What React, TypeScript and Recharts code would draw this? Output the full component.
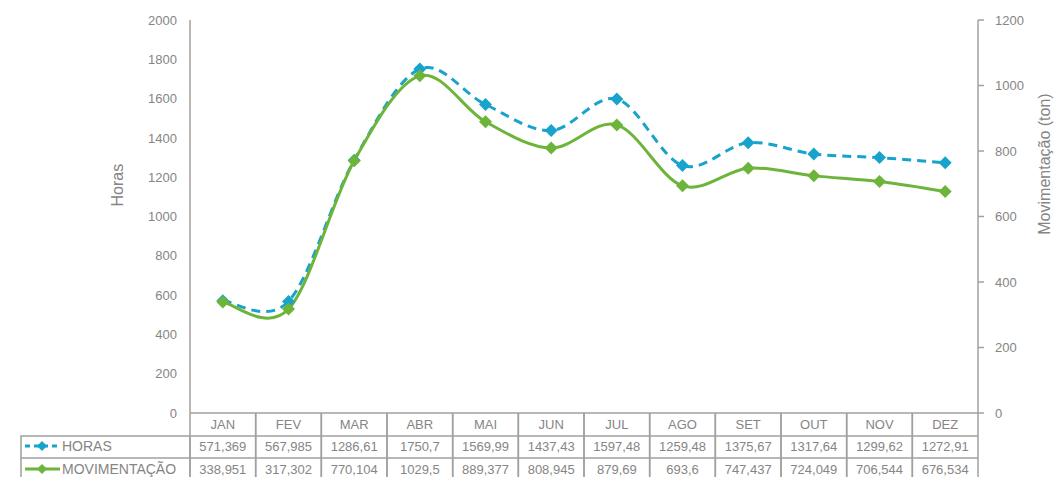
import React from "react";
import { ComposedChart, Line, XAxis, YAxis } from "recharts";

const months = ["JAN", "FEV", "MAR", "ABR", "MAI", "JUN", "JUL", "AGO", "SET", "OUT", "NOV", "DEZ"];
const horas = [571.369, 567.985, 1286.61, 1750.7, 1569.99, 1437.43, 1597.48, 1259.48, 1375.67, 1317.64, 1299.62, 1272.91];
const movimentacao = [338.951, 317.302, 770.104, 1029.5, 889.377, 808.945, 879.69, 693.6, 747.437, 724.049, 706.544, 676.534];
const horasLabels = ["571,369", "567,985", "1286,61", "1750,7", "1569,99", "1437,43", "1597,48", "1259,48", "1375,67", "1317,64", "1299,62", "1272,91"];
const movLabels = ["338,951", "317,302", "770,104", "1029,5", "889,377", "808,945", "879,69", "693,6", "747,437", "724,049", "706,544", "676,534"];
const leftTicks = [0, 200, 400, 600, 800, 1000, 1200, 1400, 1600, 1800, 2000];
const rightTicks = [0, 200, 400, 600, 800, 1000, 1200];

const data = months.map((m, i) => ({ month: m, horas: horas[i], mov: movimentacao[i] }));

const BLUE = "#17a3cc";
const GREEN = "#6db43a";
const GRID = "#a0a0a0";
const TEXT = "#858585";
const FONT = "'Liberation Sans', Arial, sans-serif";

// excel-like smoothed line (catmull-rom through the points)
function smoothCurve(context: any) {
  let pts: number[][] = [];
  return {
    areaStart() {},
    areaEnd() {},
    lineStart() { pts = []; },
    point(x: number, y: number) { pts.push([+x, +y]); },
    lineEnd() {
      const n = pts.length;
      if (!n) return;
      context.moveTo(pts[0][0], pts[0][1]);
      for (let i = 0; i < n - 1; i++) {
        const p0 = pts[i - 1] || pts[i];
        const p1 = pts[i];
        const p2 = pts[i + 1];
        const p3 = pts[i + 2] || p2;
        context.bezierCurveTo(
          p1[0] + (p2[0] - p0[0]) / 6, p1[1] + (p2[1] - p0[1]) / 6,
          p2[0] - (p3[0] - p1[0]) / 6, p2[1] - (p3[1] - p1[1]) / 6,
          p2[0], p2[1]
        );
      }
    },
  };
}

const Diamond = (color: string) => (props: any) => {
  const { cx, cy, index } = props;
  if (cx == null || cy == null) return <g key={index} />;
  const r = 6.5;
  return <polygon key={index} points={`${cx},${cy - r} ${cx + r},${cy} ${cx},${cy + r} ${cx - r},${cy}`} fill={color} />;
};

const BAND = 788 / 12;

function TableTick(props: any) {
  const { x, y, index } = props;
  const l = x - BAND / 2;
  const r = x + BAND / 2;
  const y1 = y + 23;
  const y2 = y + 45;
  const y3 = y + 68;
  return (
    <g fontFamily={FONT} fontSize={13} fill={TEXT}>
      <line x1={l} y1={y} x2={l} y2={y3} stroke={GRID} strokeWidth={1.5} />
      <line x1={r} y1={y} x2={r} y2={y3} stroke={GRID} strokeWidth={1.5} />
      <line x1={l} y1={y1} x2={r} y2={y1} stroke={GRID} strokeWidth={1.5} />
      <line x1={l} y1={y2} x2={r} y2={y2} stroke={GRID} strokeWidth={1.5} />
      <text x={x} y={y + 16} textAnchor="middle" fill={TEXT}>{months[index]}</text>
      <text x={x} y={y1 + 15} textAnchor="middle" fill={TEXT}>{horasLabels[index]}</text>
      <text x={x} y={y2 + 16} textAnchor="middle" fill={TEXT}>{movLabels[index]}</text>
      {index === 0 && (
        <g>
          <rect x={21} y={y1} width={l - 21} height={y3 - y1} fill="none" stroke={GRID} strokeWidth={1.5} />
          <line x1={21} y1={y2} x2={l} y2={y2} stroke={GRID} strokeWidth={1.5} />
          <line x1={25} y1={y1 + 10} x2={60} y2={y1 + 10} stroke={BLUE} strokeWidth={3} strokeDasharray="5 4" />
          <polygon points={`42,${y1 + 5} 47,${y1 + 10} 42,${y1 + 15} 37,${y1 + 10}`} fill={BLUE} />
          <text x={62} y={y1 + 15} fill={TEXT} fontSize={14}>HORAS</text>
          <line x1={25} y1={y2 + 11} x2={60} y2={y2 + 11} stroke={GREEN} strokeWidth={3} />
          <polygon points={`42,${y2 + 6} 47,${y2 + 11} 42,${y2 + 16} 37,${y2 + 11}`} fill={GREEN} />
          <text x={62} y={y2 + 16} fill={TEXT} fontSize={14}>MOVIMENTAÇÃO</text>
        </g>
      )}
    </g>
  );
}

export default function App() {
  return (
    <div style={{ position: "absolute", left: 0, top: 0, width: 1054, height: 477, background: "#fff", overflow: "hidden" }}>
      <ComposedChart width={1054} height={477} data={data} margin={{ top: 20, right: 0, bottom: 0, left: 0 }}>
        <XAxis
          dataKey="month"
          xAxisId="x"
          scale="band"
          height={64}
          interval={0}
          tickSize={0}
          tickMargin={0}
          tickLine={false}
          axisLine={{ stroke: GRID, strokeWidth: 1.5 }}
          tick={<TableTick />}
        />
        <YAxis
          yAxisId="left"
          orientation="left"
          width={190}
          domain={[0, 2000]}
          ticks={leftTicks}
          interval={0}
          tickLine={false}
          tickSize={0}
          tickMargin={13}
          axisLine={{ stroke: GRID, strokeWidth: 1.5 }}
          tick={{ fill: TEXT, fontSize: 13, fontFamily: FONT }}
          label={{ value: "Horas", angle: -90, position: "insideLeft", dx: 112, dy: -10, fill: TEXT, fontSize: 16, fontFamily: FONT }}
        />
        <YAxis
          yAxisId="right"
          orientation="right"
          width={76}
          domain={[0, 1200]}
          ticks={rightTicks}
          interval={0}
          tickSize={6}
          tickMargin={11}
          tickLine={{ stroke: GRID, strokeWidth: 1.5 }}
          axisLine={{ stroke: GRID, strokeWidth: 1.5 }}
          tick={{ fill: TEXT, fontSize: 13, fontFamily: FONT, textAnchor: "start" }}
        />
        <Line
          xAxisId="x"
          yAxisId="left"
          dataKey="horas"
          type={smoothCurve as any}
          stroke={BLUE}
          strokeWidth={3}
          strokeDasharray="9 6"
          dot={Diamond(BLUE)}
          activeDot={false}
          isAnimationActive={false}
        />
        <Line
          xAxisId="x"
          yAxisId="right"
          dataKey="mov"
          type={smoothCurve as any}
          stroke={GREEN}
          strokeWidth={3}
          dot={Diamond(GREEN)}
          activeDot={false}
          isAnimationActive={false}
        />
      </ComposedChart>
      <svg width={1054} height={477} style={{ position: "absolute", left: 0, top: 0, pointerEvents: "none" }}>
        <text x={1050} y={164} transform="rotate(-90 1050 164)" textAnchor="middle" fill={TEXT} fontSize={16} fontFamily={FONT}>
          Movimentação (ton)
        </text>
      </svg>
    </div>
  );
}
